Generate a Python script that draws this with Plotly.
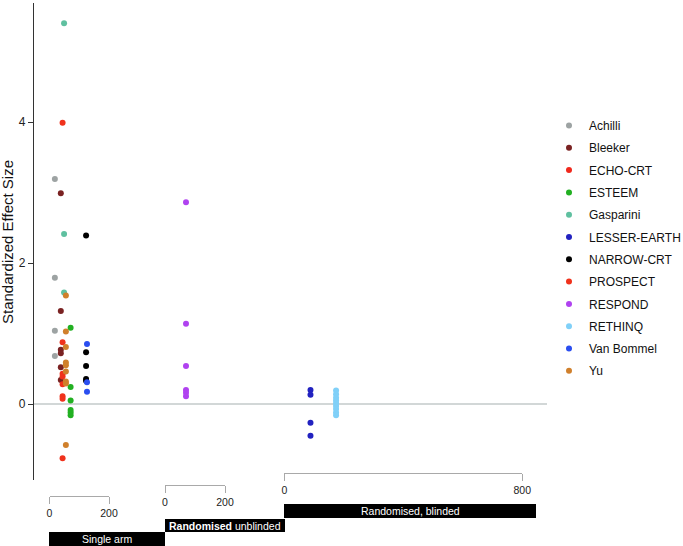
import plotly.graph_objects as go

# ---------------- data ----------------
studies = ["Achilli", "Bleeker", "ECHO-CRT", "ESTEEM", "Gasparini", "LESSER-EARTH",
           "NARROW-CRT", "PROSPECT", "RESPOND", "RETHINQ", "Van Bommel", "Yu"]
design = ["Single arm", "Single arm", "Randomised, blinded", "Single arm", "Single arm",
          "Randomised, blinded", "Single arm", "Single arm", "Randomised unblinded",
          "Randomised, blinded", "Single arm", "Single arm"]
sample_size = [18, 38, 802, 71, 49, 88, 123, 44, 70, 174, 126, 55]

achilli_es = [3.19, 1.79, 1.04, 0.68]
bleeker_es = [2.99, 1.32, 0.77, 0.72, 0.52, 0.34]
echo_crt_es = [-0.07]
esteem_es = [1.08, 0.24, 0.05, -0.085, -0.12, -0.16]
gasparini_es = [5.40, 2.41, 1.58]
lesser_earth_es = [0.20, 0.13, -0.265, -0.45]
narrow_crt_es = [2.39, 0.735, 0.54, 0.355, 0.33]
prospect_es = [3.99, 0.875, 0.43, 0.39, 0.28, 0.11, 0.075, -0.77]
respond_es = [2.86, 1.14, 0.54, 0.20, 0.16, 0.11]
rethinq_es = [0.19, 0.14, 0.09, 0.05, 0.01, -0.03, -0.07, -0.12, -0.16]
van_bommel_es = [0.85, 0.31, 0.175]
yu_es = [1.54, 1.03, 0.81, 0.59, 0.55, 0.46, 0.32, 0.29, -0.58]

effect_sizes = [achilli_es, bleeker_es, echo_crt_es, esteem_es, gasparini_es, lesser_earth_es,
                narrow_crt_es, prospect_es, respond_es, rethinq_es, van_bommel_es, yu_es]

single_ticks = [0, 200]
unblinded_ticks = [0, 200]
blinded_ticks = [0, 800]
y_ticks = [0, 2, 4]

# ---------------- styles ----------------
colors = {
    "Achilli": "#9da3a3", "Bleeker": "#7a2222", "ECHO-CRT": "#f0281c", "ESTEEM": "#22b022",
    "Gasparini": "#5fc0a0", "LESSER-EARTH": "#2222c0", "NARROW-CRT": "#000000",
    "PROSPECT": "#f0321c", "RESPOND": "#b042f0", "RETHINQ": "#80d0f8",
    "Van Bommel": "#2a4ef0", "Yu": "#d0802c",
}
axis_of = {"Single arm": "x", "Randomised unblinded": "x2", "Randomised, blinded": "x3"}

W, H = 683, 546
L, R, T, B = 33, 136, 0, 0
PW = W - L - R

def fx(px):
    return (px - L) / PW

def fy(py):
    return (H - py) / H

SANS = "Liberation Sans, Arial, Helvetica, sans-serif"

fig = go.Figure()
for name, d, n, es in zip(studies, design, sample_size, effect_sizes):
    fig.add_trace(go.Scatter(
        x=[n] * len(es), y=es, mode="markers", name=name,
        xaxis=axis_of[d], yaxis="y", legendgroup=name,
        marker=dict(color=colors[name], size=6, line=dict(width=0)),
        cliponaxis=False, hoverinfo="x+y+name",
    ))

xcommon = dict(anchor="free", showline=True, linecolor="#a9a9a9", linewidth=1,
               ticks="outside", ticklen=7, tickcolor="#a9a9a9", tickwidth=1,
               showgrid=False, zeroline=False, fixedrange=True,
               tickfont=dict(family=SANS, size=10.5, color="#222"))

fig.update_layout(
    width=W, height=H,
    margin=dict(l=L, r=R, t=T, b=B, autoexpand=False),
    paper_bgcolor="white", plot_bgcolor="white",
    font=dict(family=SANS, size=12, color="#222"),
    xaxis=dict(domain=[fx(49.5), fx(109)], range=[0, 200], tickvals=single_ticks,
               position=fy(496), **xcommon),
    xaxis2=dict(domain=[fx(165), fx(225)], range=[0, 200], tickvals=unblinded_ticks,
                position=fy(485), **xcommon),
    xaxis3=dict(domain=[fx(284.3), fx(522.3)], range=[0, 800], tickvals=blinded_ticks,
                position=fy(473), **xcommon),
    yaxis=dict(domain=[fy(480), fy(3)], range=[-1.078, 5.688], anchor="free", position=0,
               showline=True, linecolor="#333", linewidth=1.3, ticks="outside", ticklen=5,
               tickcolor="#333", tickvals=y_ticks, showgrid=False, zeroline=False,
               fixedrange=True, tickfont=dict(family=SANS, size=12, color="#222")),
    legend=dict(x=fx(549), xanchor="left", y=fy(111), yanchor="top",
                tracegroupgap=3.3, font=dict(family=SANS, size=12, color="#111"),
                bgcolor="rgba(0,0,0,0)", itemclick=False, itemdoubleclick=False),
    showlegend=True,
)

# zero reference line
fig.add_shape(type="line", xref="paper", yref="y", x0=0, x1=fx(547), y0=0, y1=0,
              line=dict(color="#c3caca", width=1.5), layer="below")

# design bars
bars = [
    ("Single arm", 49, 165, 532, 546),
    ("<b>Randomised</b> unblinded", 165, 285, 519, 532),
    ("Randomised, blinded", 284, 536, 504, 518),
]
for label, x0, x1, y0, y1 in bars:
    fig.add_shape(type="rect", xref="paper", yref="paper",
                  x0=fx(x0), x1=fx(x1), y0=fy(y1), y1=fy(y0),
                  fillcolor="black", line=dict(width=0))
    fig.add_annotation(xref="paper", yref="paper", x=fx((x0 + x1) / 2), y=fy((y0 + y1) / 2),
                       text=label, showarrow=False, xanchor="center", yanchor="middle",
                       font=dict(family=SANS, size=10.5, color="white"))

# y axis title
fig.add_annotation(xref="paper", yref="paper", x=fx(7), y=fy(242), text="Standardized Effect Size",
                   textangle=-90, showarrow=False, xanchor="center", yanchor="middle",
                   font=dict(family=SANS, size=15, color="#111"))

fig.write_html("out.html", config={"displayModeBar": False},
               post_script="document.body.style.margin='0px';")
